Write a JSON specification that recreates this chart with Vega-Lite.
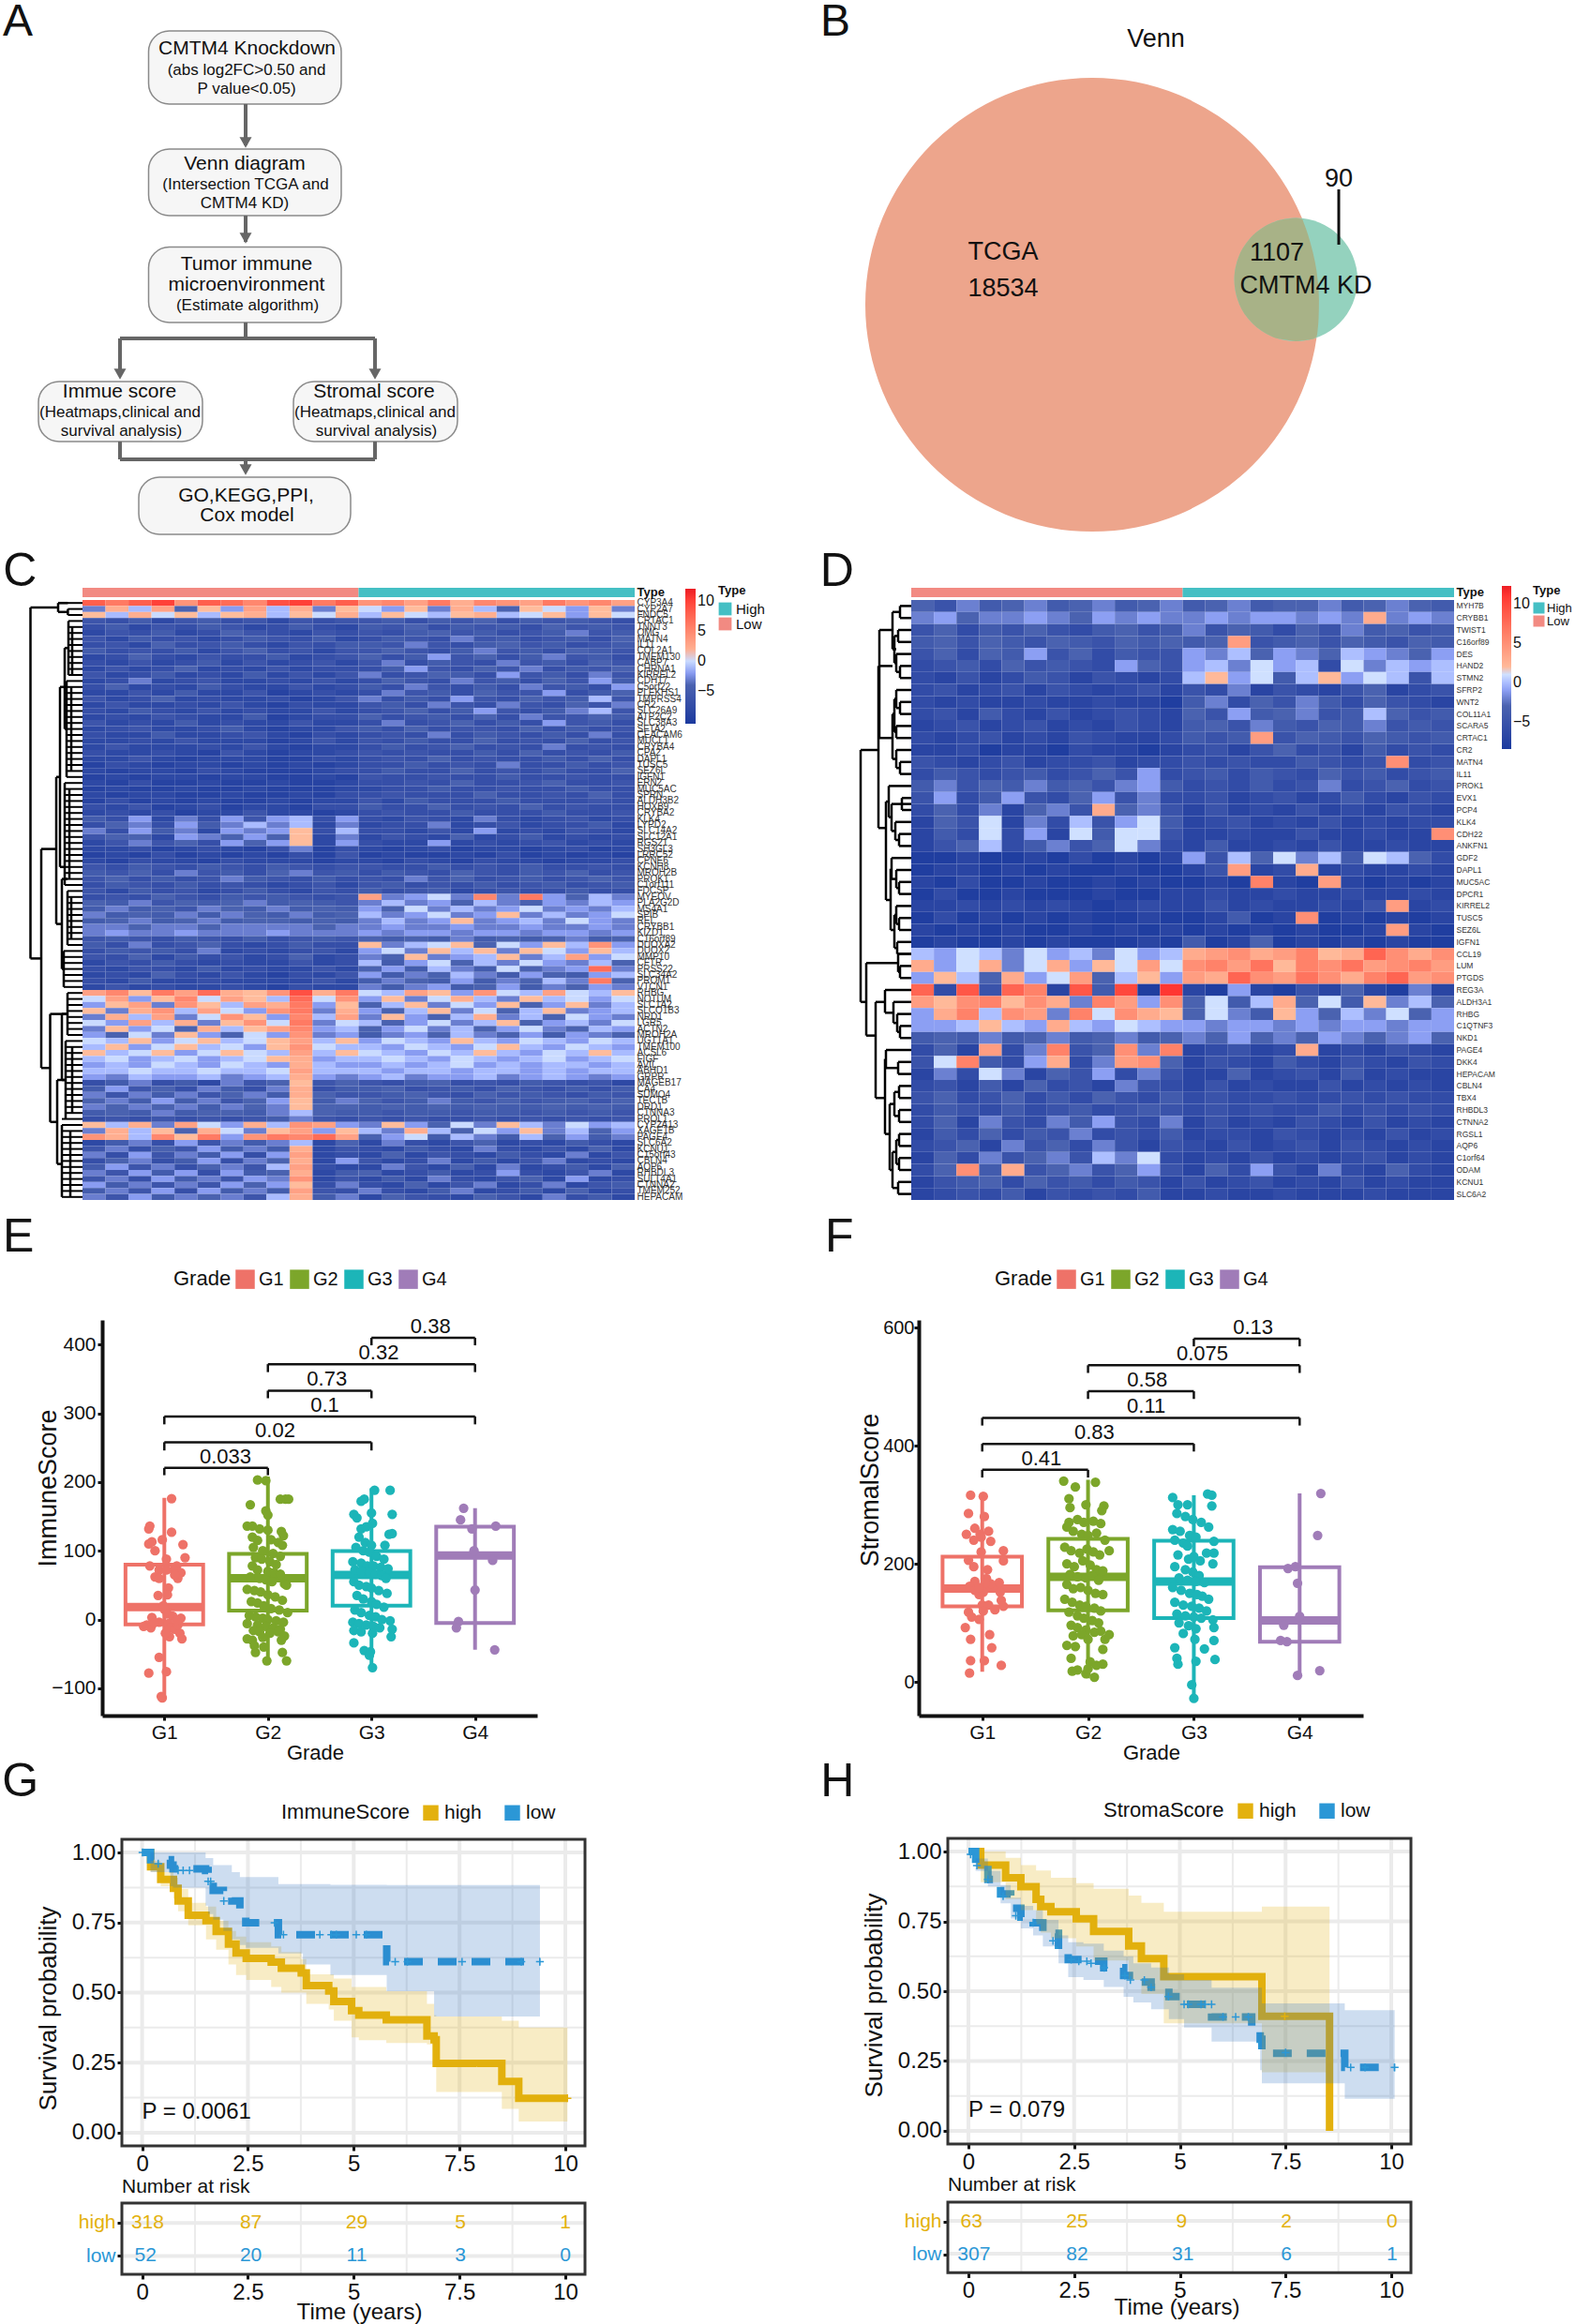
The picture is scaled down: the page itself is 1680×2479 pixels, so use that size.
{"$schema":"https://vega.github.io/schema/vega-lite/v6.json","padding":0,"spacing":0,"bounds":"flush","columns":2,
"resolve":{"scale":{"color":"independent"},"legend":{"color":"independent"}},
"config":{"view":{"stroke":null},"font":"Liberation Sans","axis":{"grid":false,"labelColor":"#111","titleColor":"#111","titleFontWeight":"normal","tickColor":"#111","domainColor":"#111","tickWidth":3,"tickSize":5,"domainWidth":4,"labelFont":"Liberation Sans","titleFont":"Liberation Sans"},"legend":{"labelFont":"Liberation Sans","titleFont":"Liberation Sans","labelColor":"#111","titleColor":"#111","titleFontWeight":"normal"}},
"datasets":{
"hC":[
{"g":"CYP3A4","v":[8,6,8,10,4,8,7,5,9,10,6,8,4,5,3,6,2,5,4,3,6,4,5,3]},
{"g":"CYP2A7","v":[-3,2,-1,3,-4,1,-2,3,-1,2,-3,1,0,-2,1,-3,2,-1,-4,1,0,-2,1,-3]},
{"g":"FNDC5","v":[1,-1,2,0,1,-1,1,2,-1,1,0,2,-1,1,0,-1,1,2,-1,0,1,-2,1,0]},
{"g":"CRTAC1","v":[-6,-7,-5,-8,-6,-5,-7,-6,-8,-6,-7,-6,-6,-5,-7,-5,-6,-4,-7,-5,-6,-5,-6,-7]},
{"g":"TNNT3","v":[-7,-5,-8,-6,-7,-5,-6,-8,-7,-5,-7,-8,-5,-6,-4,-7,-5,-6,-5,-7,-4,-6,-5,-6]},
{"g":"OMG","v":[-8,-6,-7,-5,-8,-7,-4,-6,-7,-8,-6,-7,-6,-7,-5,-4,-6,-5,-7,-6,-5,-3,-6,-5]},
{"g":"MATN4","v":[-6,-8,-5,-7,-6,-8,-7,-5,-6,-7,-5,-8,-7,-5,-6,-7,-3,-6,-5,-7,-6,-5,-7,-4]},
{"g":"IL11","v":[-7,-6,-8,-4,-7,-6,-5,-7,-8,-6,-7,-5,-5,-6,-3,-6,-7,-5,-4,-6,-5,-7,-6,-5]},
{"g":"COL2A1","v":[-5,-7,-6,-7,-5,-8,-6,-4,-7,-6,-8,-6,-6,-4,-6,-7,-5,-3,-6,-5,-7,-4,-5,-6]},
{"g":"TMEM130","v":[-8,-7,-4,-7,-8,-6,-7,-7,-5,-8,-7,-6,-4,-7,-5,-2,-6,-4,-7,-5,-3,-6,-5,-7]},
{"g":"CABP7","v":[-7,-8,-6,-8,-7,-5,-8,-6,-8,-7,-6,-8,-6,-3,-7,-5,-6,-7,-3,-6,-5,-7,-4,-6]},
{"g":"CHRNA1","v":[-8,-6,-8,-7,-4,-8,-7,-8,-6,-8,-7,-7,-7,-5,-2,-6,-7,-4,-6,-3,-7,-5,-6,-4]},
{"g":"KIRREL2","v":[-6,-8,-7,-5,-8,-7,-8,-5,-8,-6,-8,-6,-3,-7,-6,-4,-5,-7,-2,-6,-5,-7,-3,-6]},
{"g":"CDH17","v":[-8,-7,-3,-8,-7,-6,-8,-8,-7,-8,-6,-8,-7,-4,-6,-7,-3,-6,-5,-7,-4,-6,-2,-5]},
{"g":"C5orf22","v":[-7,-4,-8,-7,-8,-5,-7,-8,-8,-6,-8,-7,-5,-7,-3,-6,-7,-5,-7,-3,-6,-5,-7,-2]},
{"g":"PLEKHS1","v":[-8,-8,-6,-8,-5,-8,-8,-6,-9,-8,-7,-8,-7,-3,-6,-5,-7,-4,-6,-6,-2,-7,-5,-4]},
{"g":"TMPRSS4","v":[-6,-8,-7,-4,-8,-7,-8,-8,-7,-9,-8,-6,-3,-7,-5,-7,-2,-6,-7,-4,-6,-5,-1,-6]},
{"g":"CR2","v":[-8,-6,-8,-8,-7,-8,-6,-8,-9,-7,-8,-8,-6,-5,-7,-3,-6,-7,-3,-6,-7,-4,-6,-3]},
{"g":"SLC26A9","v":[-7,-8,-5,-7,-8,-6,-8,-7,-8,-8,-6,-8,-7,-6,-4,-7,-5,-2,-6,-7,-5,-3,-1,-6]},
{"g":"ATP2C2","v":[-8,-7,-8,-6,-7,-8,-8,-5,-9,-8,-7,-7,-4,-7,-6,-5,-7,-4,-7,-3,-6,-6,-4,-5]},
{"g":"SLC38A3","v":[-6,-8,-7,-8,-5,-8,-7,-8,-8,-6,-8,-8,-7,-3,-7,-6,-4,-7,-5,-7,-2,-6,-5,-7]},
{"g":"SFTA2","v":[-8,-7,-6,-8,-8,-7,-5,-8,-9,-8,-8,-6,-5,-7,-4,-7,-6,-6,-7,-4,-7,-5,-7,-6]},
{"g":"CEACAM6","v":[-7,-8,-8,-5,-8,-8,-7,-6,-8,-9,-7,-8,-7,-6,-7,-3,-7,-5,-6,-7,-5,-7,-3,-7]},
{"g":"MUCL1","v":[-8,-8,-7,-8,-6,-8,-8,-8,-9,-8,-6,-8,-6,-7,-5,-7,-7,-4,-7,-6,-7,-4,-7,-6]},
{"g":"CRYBA4","v":[-8,-6,-8,-8,-8,-7,-8,-6,-8,-9,-8,-8,-7,-5,-7,-6,-4,-7,-6,-7,-3,-7,-6,-7]},
{"g":"CPA2","v":[-7,-8,-8,-7,-8,-9,-6,-8,-9,-8,-8,-7,-6,-7,-6,-7,-7,-5,-7,-4,-7,-6,-7,-5]},
{"g":"DAPL1","v":[-8,-8,-6,-8,-9,-8,-8,-8,-9,-9,-7,-8,-7,-6,-7,-4,-7,-6,-7,-7,-5,-7,-4,-7]},
{"g":"TUSC5","v":[-9,-7,-8,-9,-8,-8,-9,-8,-9,-8,-9,-8,-7,-7,-5,-7,-6,-7,-3,-7,-7,-5,-7,-6]},
{"g":"SEZ6L","v":[-8,-9,-8,-8,-9,-7,-8,-9,-9,-9,-8,-7,-7,-5,-7,-7,-4,-7,-6,-7,-5,-7,-7,-4]},
{"g":"IGFN1","v":[-9,-8,-9,-8,-8,-9,-8,-8,-9,-9,-8,-9,-6,-7,-7,-6,-7,-7,-5,-7,-7,-6,-7,-7]},
{"g":"ERN2","v":[-8,-9,-7,-9,-9,-8,-9,-9,-8,-9,-9,-8,-7,-7,-6,-7,-4,-7,-7,-6,-4,-7,-7,-6]},
{"g":"MUC5AC","v":[-9,-8,-9,-9,-8,-9,-9,-8,-9,-9,-9,-8,-8,-7,-7,-5,-7,-7,-6,-7,-7,-5,-7,-7]},
{"g":"SPRN","v":[-8,-9,-8,-8,-9,-9,-8,-9,-9,-8,-9,-7,-7,-6,-7,-7,-7,-4,-7,-7,-6,-7,-4,-7]},
{"g":"ALDH3B2","v":[-9,-7,-9,-8,-9,-8,-9,-9,-8,-9,-8,-8,-6,-8,-5,-7,-7,-7,-5,-7,-7,-7,-6,-7]},
{"g":"HOXB9","v":[-7,-8,-6,-9,-8,-7,-9,-8,-8,-9,-7,-7,-5,-7,-7,-4,-7,-6,-7,-4,-7,-6,-7,-7]},
{"g":"CRYBA2","v":[-8,-7,-8,-7,-9,-8,-8,-6,-8,-8,-9,-8,-7,-6,-7,-7,-5,-7,-7,-7,-5,-7,-7,-6]},
{"g":"KLK4","v":[-5,-7,-2,-8,-3,-7,-2,-6,-2,-1,-7,-2,-7,-8,-6,-7,-8,-3,-7,-8,-7,-6,-8,-7]},
{"g":"LYPD2","v":[-7,-4,-3,-7,-2,-5,-3,-1,-3,-1,-8,-3,-8,-7,-7,-3,-8,-7,-6,-8,-7,-7,-5,-8]},
{"g":"SLC14A2","v":[-3,-7,-2,-5,-3,-8,-2,-3,-2,1,-7,-1,-7,-7,-8,-6,-8,-2,-8,-7,-8,-6,-7,-8]},
{"g":"SLC12A1","v":[-6,-4,-4,-8,-2,-3,-4,-2,-4,1,-8,-3,-8,-6,-7,-8,-4,-8,-7,-5,-8,-7,-8,-7]},
{"g":"RGS21","v":[-8,-6,-3,-6,-4,-7,-2,-4,-2,1,-8,-2,-7,-8,-8,-2,-8,-7,-8,-7,-6,-8,-7,-8]},
{"g":"SH3GL3","v":[-8,-8,-7,-9,-8,-7,-8,-9,-7,-3,-9,-7,-8,-9,-8,-7,-9,-8,-8,-9,-8,-7,-9,-8]},
{"g":"LRRC52","v":[-9,-8,-9,-7,-9,-8,-9,-8,-9,-7,-9,-6,-9,-8,-9,-9,-8,-9,-7,-9,-8,-9,-8,-9]},
{"g":"CPNE6","v":[-8,-9,-7,-8,-8,-9,-7,-8,-8,-8,-9,-8,-8,-9,-7,-8,-9,-7,-8,-8,-9,-8,-8,-7]},
{"g":"KCNH8","v":[-6,-7,-5,-6,-7,-5,-6,-7,-5,-6,-7,-6,-6,-7,-7,-5,-7,-6,-7,-5,-7,-7,-6,-7]},
{"g":"MROH2B","v":[-5,-6,-4,-7,-3,-6,-5,-7,-4,-3,-6,-5,-7,-5,-6,-7,-4,-6,-7,-5,-6,-4,-7,-6]},
{"g":"PROK1","v":[-6,-4,-7,-5,-7,-6,-3,-5,-6,-7,-5,-7,-6,-7,-3,-6,-4,-7,-6,-5,-7,-6,-4,-6]},
{"g":"C1orf111","v":[-7,-5,-6,-7,-5,-7,-6,-7,-8,-7,-6,-8,-6,-5,-7,-6,-7,-5,-7,-6,-5,-7,-6,-5]},
{"g":"FDCSP","v":[-6,-8,-5,-7,-6,-8,-7,-5,-7,-8,-6,-7,-5,-7,-6,-5,-8,-7,-6,-7,-7,-5,-7,-7]},
{"g":"MYEOV","v":[-7,-6,-7,-4,-6,-7,-5,-6,-5,-6,-7,-6,3,-3,-2,0,-3,5,-3,6,-2,-4,-1,-3]},
{"g":"PLA2G2D","v":[-4,-5,-3,-6,-4,-5,-4,-3,-5,-4,-5,-6,-3,-1,-3,-2,-4,-1,-3,-4,-2,-3,-1,-2]},
{"g":"MS4A1","v":[-5,-3,-5,-4,-6,-3,-4,-5,-3,-5,-4,-5,-2,-4,0,-3,-1,-3,-2,0,-3,-2,-3,-1]},
{"g":"SPIB","v":[-3,-5,-4,-5,-3,-5,-3,-4,-5,-3,-5,-4,-1,-3,-2,0,-3,-2,1,-3,-1,-3,-2,0]},
{"g":"REL","v":[-5,-4,-3,-5,-4,-3,-5,-4,-4,-5,-4,-5,-3,-1,-3,-2,1,-3,-2,-1,-3,0,-2,-3]},
{"g":"CRYBB1","v":[-3,-3,-4,-3,-3,-4,-3,-3,-3,-3,-4,-3,-3,-2,-3,-3,-2,-3,-3,-2,-3,-3,-2,-3]},
{"g":"KIZD1","v":[-3,-2,-3,-3,-2,-3,-3,-3,-2,-3,-3,-3,-2,-3,-2,-2,-3,-2,-2,-3,-2,-2,-3,-2]},
{"g":"C16orf89","v":[-6,-5,-6,-7,-5,-6,-7,-5,-7,-6,-5,-6,-4,-5,-4,-5,-3,-5,-4,-5,-4,-3,-5,-4]},
{"g":"DUOXA2","v":[-5,-7,-3,-7,-6,-4,-7,-8,-7,-5,-7,-7,1,-3,-1,0,1,-4,0,-2,1,-1,4,-2]},
{"g":"DUOX2","v":[-7,-5,-6,-5,-7,-3,-8,-7,-8,-7,-6,-8,-2,0,-3,1,-1,1,-3,1,0,-2,1,-1]},
{"g":"MMP10","v":[-6,-7,-4,-8,-5,-7,-6,-8,-7,-4,-8,-7,-3,-4,1,-3,-2,-1,1,-3,-1,3,-2,0]},
{"g":"CFTR","v":[-8,-6,-7,-5,-7,-8,-7,-8,-8,-6,-8,-7,-1,-5,-2,0,-4,-1,-3,0,-2,-3,-1,-4]},
{"g":"PRSS22","v":[-7,-8,-6,-7,-8,-5,-8,-7,-8,-8,-6,-8,-4,-2,-5,-1,-3,-5,0,-4,-3,-2,7,-3]},
{"g":"SLC34A2","v":[-8,-7,-8,-4,-7,-8,-6,-8,-9,-7,-8,-6,-2,-5,-3,-4,-1,-3,-5,-2,-4,-5,-2,-1]},
{"g":"PROM1","v":[-7,-8,-5,-8,-8,-7,-8,-8,-8,-8,-6,-8,-5,-3,-4,-5,-2,-5,-3,-4,-1,-3,6,-4]},
{"g":"VTCN1","v":[-8,-6,-8,-7,-8,-8,-7,-8,-9,-7,-8,-8,-3,-5,-3,-2,-5,-4,-2,-5,-3,-4,-2,-3]},
{"g":"RHBG","v":[3,5,1,6,3,7,2,1,4,9,2,6,0,-1,3,1,-2,4,0,-1,3,0,-1,1]},
{"g":"NOTUM","v":[0,3,-2,1,5,0,3,1,-1,7,0,4,-2,1,-3,0,2,-1,-3,1,-1,0,-2,0]},
{"g":"SLC1A2","v":[-2,1,3,-3,4,1,-1,3,2,6,-2,1,-4,-1,1,-3,0,-2,1,-4,-2,1,-3,-1]},
{"g":"SLCO1B3","v":[1,-3,2,4,-1,3,0,-2,4,6,-3,2,-2,-4,-1,1,-3,0,-4,-1,1,-3,-2,-1]},
{"g":"NRD1","v":[-3,2,-1,3,-3,0,4,1,-2,5,-1,3,-3,1,-2,-4,-1,2,-3,-1,-4,0,-2,-3]},
{"g":"LGR5","v":[0,-2,3,-1,2,-3,1,4,0,6,-3,0,-1,-4,-2,0,-3,-1,1,-4,-2,-1,-3,0]},
{"g":"ACTN2","v":[-3,1,-2,0,-4,2,-1,1,3,5,-2,-1,-4,-2,0,-3,-1,-4,-2,0,-3,-4,-1,-2]},
{"g":"MROH2A","v":[-2,-4,0,-3,1,-2,-4,0,-2,4,-3,-2,-5,-3,-2,-4,-1,-3,-4,-2,-5,-2,-3,-4]},
{"g":"UGT1A1","v":[0,-1,1,-2,0,1,-1,0,1,3,-1,1,-2,0,-1,-2,1,-1,-2,0,-1,-2,0,-1]},
{"g":"TMEM100","v":[-1,1,-2,0,1,-1,0,-2,1,4,0,-1,-1,-2,0,-1,-2,0,1,-1,-2,0,-1,-2]},
{"g":"ACSL6","v":[1,-1,0,1,-2,0,1,0,-1,3,-1,1,0,-1,-2,0,-1,1,-1,-2,0,-1,1,-1]},
{"g":"FIGF","v":[-1,0,-2,-1,0,-2,-1,0,1,2,-2,-1,-1,0,-1,-2,0,-1,-2,-1,0,-2,-1,0]},
{"g":"AVIL","v":[-2,-1,-2,0,-1,-2,0,-1,-2,2,-1,-2,-2,-1,-2,-1,0,-2,-1,-2,-1,-1,-2,-1]},
{"g":"ABHD1","v":[-1,-1,0,-1,-1,0,-1,-1,0,3,-1,-1,-1,-2,-1,-1,-2,-1,-1,-2,-1,-2,-1,-1]},
{"g":"GRPR","v":[-2,-3,-1,-2,-2,-1,-3,-2,-1,2,-2,-3,-2,-1,-3,-2,-2,-1,-3,-2,-1,-2,-3,-2]},
{"g":"MAGEB17","v":[-7,-5,-3,-7,-5,-8,-3,-6,-4,1,-6,-4,-6,-7,-5,-4,-7,-6,-7,-5,-6,-7,-6,-8]},
{"g":"CA4","v":[-5,-2,-6,-4,-7,-3,-5,-7,-3,2,-7,-5,-5,-4,-7,-6,-5,-7,-4,-6,-7,-5,-7,-5]},
{"g":"SUMO4","v":[-3,-6,-3,-5,-3,-6,-4,-3,-5,2,-4,-6,-6,-5,-4,-6,-7,-4,-6,-5,-6,-7,-5,-6]},
{"g":"TECTB","v":[-4,-3,-5,-2,-5,-3,-6,-4,-2,1,-5,-3,-4,-6,-5,-3,-5,-6,-4,-6,-5,-4,-6,-4]},
{"g":"DRD1","v":[-3,-4,-3,-4,-3,-5,-3,-4,-3,1,-4,-4,-5,-4,-5,-4,-5,-4,-5,-5,-4,-5,-4,-5]},
{"g":"CTNNA3","v":[-5,-4,-5,-3,-5,-4,-4,-5,-3,-1,-4,-5,-5,-6,-5,-5,-6,-5,-5,-6,-5,-6,-5,-6]},
{"g":"PROL1","v":[-7,-6,-7,-6,-7,-6,-7,-6,-5,-3,-6,-7,-6,-7,-6,-7,-7,-6,-7,-6,-7,-6,-7,-6]},
{"g":"CYP2A13","v":[1,-1,2,-3,3,0,-2,2,-1,4,3,-2,-3,1,-2,-4,0,-3,1,-1,-3,0,-2,-1]},
{"g":"XAGE1B","v":[-3,2,-1,1,-4,2,0,-3,1,3,-2,1,-1,-3,2,-1,-4,0,-2,1,-3,-1,-4,-2]},
{"g":"PAGE4","v":[4,2,-1,5,1,6,-2,4,6,5,7,3,-4,-2,0,-5,-1,-3,-5,-1,-4,-2,-5,-3]},
{"g":"SLC6A2","v":[-8,-5,-3,-7,-2,-6,-3,-5,-3,-1,-8,-4,-8,-3,-7,-8,-6,-4,-8,-7,-8,-5,-7,-8]},
{"g":"KCNU1","v":[-6,-3,-7,-4,-6,-2,-5,-3,-5,2,-8,-6,-7,-8,-5,-7,-8,-3,-7,-8,-6,-8,-4,-8]},
{"g":"C15orf43","v":[-3,-7,-2,-6,-3,-5,-2,-7,-2,3,-8,-7,-8,-4,-8,-6,-7,-8,-5,-7,-8,-3,-8,-6]},
{"g":"CBLN4","v":[-7,-4,-3,-7,-5,-2,-7,-3,-4,2,-8,-2,-6,-8,-7,-3,-8,-5,-8,-6,-3,-8,-7,-8]},
{"g":"AQP6","v":[-5,-2,-6,-3,-7,-4,-3,-6,-1,3,-7,-8,-8,-3,-6,-8,-4,-8,-3,-8,-7,-5,-8,-4]},
{"g":"RHBDL3","v":[-3,-6,-2,-5,-2,-7,-2,-5,-4,2,-8,-5,-4,-8,-7,-5,-8,-7,-2,-7,-8,-6,-3,-8]},
{"g":"SULT4A1","v":[-6,-3,-7,-2,-5,-3,-6,-2,-3,4,-8,-6,-8,-5,-8,-3,-7,-8,-6,-4,-8,-2,-8,-7]},
{"g":"CTNNA2","v":[-2,-5,-3,-6,-3,-6,-2,-4,-2,1,-7,-3,-7,-8,-4,-8,-6,-3,-8,-7,-3,-8,-6,-5]},
{"g":"TMEM252","v":[-5,-3,-6,-2,-7,-2,-5,-3,-5,3,-6,-7,-3,-7,-8,-5,-3,-8,-7,-5,-8,-4,-8,-7]},
{"g":"HEPACAM","v":[-3,-6,-2,-5,-3,-4,-3,-6,-1,2,-5,-3,-8,-4,-6,-7,-8,-4,-6,-8,-3,-7,-5,-8]}
],
"hD":[
{"g":"MYH7B","v":[-3,-5,-2,-4,-3,-2,-4,-3,-2,-4,-3,-2,-4,-3,-2,-4,-3,-3,-2,-4,-3,-2,-3,-4]},
{"g":"CRYBB1","v":[-2,-1,-3,-2,-2,-1,-2,-3,-1,-2,-1,-2,-2,-1,-2,-1,-1,-2,-1,-2,3,-2,-1,-2]},
{"g":"TWIST1","v":[-5,-3,-6,-4,-5,-3,-5,-6,-4,-3,-5,-4,-2,-5,-3,-4,-6,-3,-5,-2,-4,-3,-5,-4]},
{"g":"C16orf89","v":[-4,-3,-5,-3,-4,-5,-3,-4,-5,-3,-4,-3,-4,-3,4,-5,-4,-3,-5,-3,-4,-5,-3,-4]},
{"g":"DES","v":[-5,-3,-6,-3,-4,-1,-5,-3,-6,-4,-5,-5,-1,-2,0,-3,-1,-2,-3,0,-1,-2,-3,-1]},
{"g":"HAND2","v":[-6,-5,-4,-6,-3,-5,-4,-5,-6,-1,-3,-5,-1,0,-2,1,-1,0,-6,1,-2,0,-1,0]},
{"g":"STMN2","v":[-6,-7,-5,-7,-6,-4,-5,-7,-5,-6,-7,-6,0,2,-1,1,-4,0,2,-1,1,0,-5,0]},
{"g":"SFRP2","v":[-6,-5,-7,-6,-5,-7,-5,-6,-7,-6,-5,-7,-5,-6,-2,-7,-5,-6,-7,-5,-3,-7,-6,-5]},
{"g":"WNT2","v":[-6,-7,-6,-7,-7,-6,-7,-7,-6,-7,-7,-8,-4,-2,-6,-3,-5,-2,-4,-6,-3,-5,-6,-7]},
{"g":"COL11A1","v":[-6,-5,-7,-4,-6,-7,-5,-7,-6,-5,-6,-7,-3,-5,-1,-4,-3,-2,-5,-4,0,-3,-5,-4]},
{"g":"SCARA5","v":[-7,-6,-5,-7,-6,-5,-7,-6,-7,-5,-6,-7,-4,-3,-5,-2,-4,-5,-3,-4,-2,-5,-4,-5]},
{"g":"CRTAC1","v":[-6,-7,-6,-5,-7,-6,-7,-5,-6,-7,-7,-6,-4,-5,-4,4,-5,-3,-4,-5,-3,-4,-5,-4]},
{"g":"CR2","v":[-7,-7,-6,-8,-7,-7,-8,-6,-7,-7,-8,-7,-6,-5,-7,-5,-3,-6,-5,-7,-4,-6,-5,-6]},
{"g":"MATN4","v":[-5,-6,-7,-6,-5,-7,-6,-6,-5,-7,-6,-6,-5,-6,-5,-6,-6,-4,-5,-6,-5,5,-6,-5]},
{"g":"IL11","v":[-6,-4,-5,-6,-5,-4,-6,-5,-3,-5,-1,-6,-5,-4,-6,-4,-5,-6,-3,-5,-4,-6,-5,-4]},
{"g":"PROK1","v":[-4,-2,-5,-3,-4,-2,-4,-3,-5,-2,-1,-4,-6,-5,-6,-4,-6,-5,-2,-6,-5,-3,-6,-5]},
{"g":"EVX1","v":[-5,-1,-6,-4,-1,-5,-6,-3,-1,-5,-2,-6,-6,-5,-7,-6,-5,-7,-6,-4,-6,-7,-5,-6]},
{"g":"PCP4","v":[-6,-3,-6,-2,-7,-3,-2,-5,3,-3,-2,-5,-7,-5,-7,-6,-7,-5,-7,-6,-7,-5,-6,-7]},
{"g":"KLK4","v":[-7,-3,-5,1,-7,-2,-6,0,-5,-1,1,-4,-7,-6,-5,-7,-6,-7,-5,-7,-6,-7,-6,-6]},
{"g":"CDH22","v":[-7,-4,-6,1,-6,-1,-7,1,-4,1,1,-5,-7,-7,-6,-7,-7,-5,-7,-7,-6,-7,-7,5]},
{"g":"ANKFN1","v":[-7,-5,-3,0,-6,-4,-2,-5,-3,1,-2,-6,-7,-4,-7,-7,-6,-7,-5,-7,-7,-6,-7,-7]},
{"g":"GDF2","v":[-8,-8,-7,-8,-8,-7,-8,-6,-8,-7,-8,-7,-1,-5,0,-3,1,-2,0,-4,1,0,-3,-6]},
{"g":"DAPL1","v":[-8,-7,-7,-8,-7,-8,-7,-8,-8,-7,-8,-8,-7,-5,4,-7,-6,3,-7,-6,-7,-7,-6,-7]},
{"g":"MUC5AC","v":[-7,-8,-6,-8,-8,-7,-8,-8,-7,-8,-7,-8,-8,-7,-8,6,-7,-8,4,-7,-8,-7,-8,-7]},
{"g":"DPCR1","v":[-8,-6,-8,-8,-7,-8,-8,-8,-7,-8,-8,-7,-7,-6,-7,-7,-6,-7,-7,-6,-7,-7,-6,-7]},
{"g":"KIRREL2","v":[-7,-7,-6,-7,-6,-7,-6,-7,-8,-7,-6,-7,-7,-5,-7,-6,-7,-7,-6,-7,-5,4,-7,-6]},
{"g":"TUSC5","v":[-8,-6,-8,-7,-8,-7,-8,-7,-8,-8,-7,-8,-8,-7,-4,-8,-7,5,-8,-7,-8,-7,-8,-7]},
{"g":"SEZ6L","v":[-7,-8,-7,-8,-7,-8,-8,-7,-8,-7,-8,-7,-8,-7,-8,-7,-8,-7,-8,-8,-7,4,-7,-8]},
{"g":"IGFN1","v":[-8,-7,-8,-8,-7,-8,-7,-8,-8,-8,-7,-8,-4,-8,-7,-3,-8,-7,-8,-7,-8,-7,-8,-8]},
{"g":"CCL19","v":[0,-1,1,0,-2,1,-1,0,-2,1,-1,0,3,4,5,3,4,6,2,3,8,5,3,5]},
{"g":"LUM","v":[3,-1,1,3,-2,1,3,-1,2,1,4,1,5,6,4,7,2,6,5,7,4,5,6,4]},
{"g":"PTGDS","v":[-1,2,0,-3,3,-1,1,4,-3,0,2,-1,4,3,8,5,4,7,5,3,6,8,4,5]},
{"g":"REG3A","v":[8,-6,9,-5,8,6,-7,9,-4,10,-8,11,-7,-8,-1,-7,-8,-5,-7,-3,-7,-8,-2,-7]},
{"g":"ALDH3A1","v":[4,2,5,6,2,5,3,-2,6,4,-1,5,-3,1,-4,0,3,-3,1,-4,2,-2,0,-3]},
{"g":"RHBG","v":[-1,3,6,0,5,4,-2,6,1,5,3,2,-3,1,-2,-4,2,-1,-3,0,-2,1,-3,-1]},
{"g":"C1QTNF3","v":[-1,-1,0,2,0,-1,3,0,-1,1,0,-1,-1,-2,-1,-1,-2,-1,-2,-1,-1,-2,-1,-1]},
{"g":"NKD1","v":[-4,-3,-4,-2,-4,-3,-2,-4,-3,-2,-4,-3,-2,-3,-1,-3,-2,-3,-1,-2,-3,-2,-1,-3]},
{"g":"PAGE4","v":[-6,-3,-7,4,-6,-2,6,-5,-3,5,-2,6,-7,-6,-5,-7,-6,3,-7,-6,-7,-5,-6,-7]},
{"g":"DKK4","v":[-5,1,6,-4,-6,-1,3,-6,-2,4,5,-3,-7,-5,-6,-7,-4,-6,-7,-5,-6,-7,-5,-6]},
{"g":"HEPACAM","v":[-7,-2,-6,1,-2,-7,-3,-5,-1,-6,-2,-5,-7,-7,-3,-7,-6,-5,-7,-4,-7,-6,-7,-7]},
{"g":"CBLN4","v":[-6,-5,-7,-4,-7,-3,-6,-5,-7,-2,-5,-6,-7,-5,-7,-6,-7,-7,-5,-7,-6,-7,-6,-7]},
{"g":"TBX4","v":[-5,-3,-6,-5,-3,-6,-4,-6,-3,-5,-6,-4,-6,-5,-6,-6,-5,-6,-6,-5,-6,-5,-6,-6]},
{"g":"RHBDL3","v":[-6,-4,-5,-6,-4,-6,-5,-4,-6,-5,-4,-5,-6,-5,-6,-5,-6,-6,-4,-6,-5,-6,-5,-6]},
{"g":"CTNNA2","v":[-6,-3,-7,-2,-5,-6,-2,-4,-1,-5,-6,-2,-7,-5,-7,-6,-7,-5,-6,-7,-5,-7,-6,-7]},
{"g":"RGSL1","v":[-7,-4,-6,-3,-6,-4,-5,-2,-6,-5,-6,-4,-7,-6,-6,-7,-5,-6,-7,-6,-7,-5,-7,-6]},
{"g":"AQP6","v":[-6,-5,-3,-7,-2,-5,-3,-6,-2,-5,-7,-5,-6,-7,-5,-7,-6,-5,-7,-5,-6,-7,-6,-7]},
{"g":"C1orf64","v":[-7,-3,-6,-2,-5,-3,-2,-5,0,-2,1,-6,-7,-6,-7,-5,-7,-6,-7,-6,-5,-7,-6,-7]},
{"g":"ODAM","v":[-6,-3,5,-4,3,-5,-3,-2,-5,-3,-1,-5,-7,-3,-6,-1,-5,-7,-2,-6,-7,-3,-6,-7]},
{"g":"KCNU1","v":[-7,-5,-4,-3,-6,-3,-5,-4,-6,-4,-5,-7,-5,-7,-6,-5,-7,-6,-7,-5,-7,-6,-7,-7]},
{"g":"SLC6A2","v":[-7,-6,-5,-6,-4,-7,-5,-6,-5,-6,-4,-7,-7,-6,-7,-7,-6,-7,-7,-7,-6,-7,-7,-7]}
],
"kmG":[
{"g":"high","t":0,"s":1,"l":1,"u":1},{"g":"high","t":0.2,"s":0.949,"l":0.93,"u":0.97},{"g":"high","t":0.44,"s":0.904,"l":0.88,"u":0.93},{"g":"high","t":0.74,"s":0.872,"l":0.835,"u":0.91},{"g":"high","t":0.85,"s":0.827,"l":0.79,"u":0.87},{"g":"high","t":1.09,"s":0.776,"l":0.74,"u":0.82},{"g":"high","t":1.51,"s":0.757,"l":0.69,"u":0.807},{"g":"high","t":1.75,"s":0.718,"l":0.653,"u":0.756},{"g":"high","t":2.04,"s":0.673,"l":0.6,"u":0.72},{"g":"high","t":2.22,"s":0.641,"l":0.563,"u":0.7},{"g":"high","t":2.46,"s":0.622,"l":0.545,"u":0.68},{"g":"high","t":3.05,"s":0.609,"l":0.52,"u":0.665},{"g":"high","t":3.29,"s":0.587,"l":0.5,"u":0.645},{"g":"high","t":3.76,"s":0.57,"l":0.5,"u":0.62},{"g":"high","t":3.88,"s":0.525,"l":0.46,"u":0.565},{"g":"high","t":4.41,"s":0.506,"l":0.44,"u":0.565},{"g":"high","t":4.53,"s":0.468,"l":0.4,"u":0.55},{"g":"high","t":4.95,"s":0.436,"l":0.34,"u":0.52},{"g":"high","t":5.12,"s":0.42,"l":0.33,"u":0.52},{"g":"high","t":5.77,"s":0.403,"l":0.32,"u":0.505},{"g":"high","t":6.73,"s":0.345,"l":0.315,"u":0.46},{"g":"high","t":6.9,"s":0.332,"l":0.31,"u":0.42},{"g":"high","t":6.95,"s":0.247,"l":0.145,"u":0.415},{"g":"high","t":8.5,"s":0.183,"l":0.085,"u":0.4},{"g":"high","t":8.9,"s":0.123,"l":0.04,"u":0.375},{"g":"high","t":10.05,"s":0.123,"l":0.04,"u":0.375},
{"g":"low","t":0,"s":1,"l":1,"u":1},{"g":"low","t":0.2,"s":0.974,"l":0.93,"u":1},{"g":"low","t":0.67,"s":0.955,"l":0.88,"u":1},{"g":"low","t":0.73,"s":0.942,"l":0.875,"u":1},{"g":"low","t":1.5,"s":0.936,"l":0.81,"u":0.98},{"g":"low","t":1.56,"s":0.897,"l":0.78,"u":0.98},{"g":"low","t":1.68,"s":0.865,"l":0.76,"u":0.955},{"g":"low","t":1.92,"s":0.861,"l":0.72,"u":0.955},{"g":"low","t":2.12,"s":0.827,"l":0.69,"u":0.93},{"g":"low","t":2.31,"s":0.794,"l":0.67,"u":0.912},{"g":"low","t":2.45,"s":0.749,"l":0.66,"u":0.912},{"g":"low","t":3.22,"s":0.707,"l":0.64,"u":0.887},{"g":"low","t":3.8,"s":0.707,"l":0.6,"u":0.887},{"g":"low","t":4.45,"s":0.707,"l":0.563,"u":0.885},{"g":"low","t":5.78,"s":0.61,"l":0.505,"u":0.884},{"g":"low","t":6.9,"s":0.61,"l":0.415,"u":0.884},{"g":"low","t":9.4,"s":0.61,"l":0.415,"u":0.884}],
"kmH":[
{"g":"high","t":0,"s":1,"l":1,"u":1},{"g":"high","t":0.29,"s":0.951,"l":0.89,"u":1},{"g":"high","t":0.88,"s":0.906,"l":0.83,"u":0.977},{"g":"high","t":1.24,"s":0.874,"l":0.79,"u":0.951},{"g":"high","t":1.6,"s":0.829,"l":0.74,"u":0.932},{"g":"high","t":1.71,"s":0.803,"l":0.71,"u":0.932},{"g":"high","t":1.95,"s":0.784,"l":0.69,"u":0.906},{"g":"high","t":2.55,"s":0.759,"l":0.66,"u":0.887},{"g":"high","t":2.96,"s":0.714,"l":0.61,"u":0.867},{"g":"high","t":3.79,"s":0.662,"l":0.54,"u":0.842},{"g":"high","t":4.09,"s":0.617,"l":0.49,"u":0.816},{"g":"high","t":4.62,"s":0.552,"l":0.385,"u":0.784},{"g":"high","t":6.94,"s":0.41,"l":0.21,"u":0.803},{"g":"high","t":8.54,"s":0,"l":0.21,"u":0.803},
{"g":"low","t":0,"s":1,"l":1,"u":1},{"g":"low","t":0.17,"s":0.951,"l":0.93,"u":0.975},{"g":"low","t":0.46,"s":0.9,"l":0.875,"u":0.93},{"g":"low","t":0.76,"s":0.848,"l":0.815,"u":0.88},{"g":"low","t":1,"s":0.797,"l":0.76,"u":0.835},{"g":"low","t":1.24,"s":0.765,"l":0.725,"u":0.805},{"g":"low","t":1.53,"s":0.745,"l":0.7,"u":0.79},{"g":"low","t":1.76,"s":0.707,"l":0.66,"u":0.755},{"g":"low","t":2.13,"s":0.649,"l":0.6,"u":0.7},{"g":"low","t":2.36,"s":0.613,"l":0.55,"u":0.675},{"g":"low","t":2.72,"s":0.607,"l":0.54,"u":0.67},{"g":"low","t":3.2,"s":0.584,"l":0.515,"u":0.645},{"g":"low","t":3.67,"s":0.556,"l":0.48,"u":0.625},{"g":"low","t":3.9,"s":0.533,"l":0.46,"u":0.6},{"g":"low","t":4.32,"s":0.514,"l":0.435,"u":0.585},{"g":"low","t":4.74,"s":0.481,"l":0.4,"u":0.56},{"g":"low","t":5.1,"s":0.453,"l":0.37,"u":0.54},{"g":"low","t":5.75,"s":0.408,"l":0.32,"u":0.513},{"g":"low","t":6.7,"s":0.36,"l":0.32,"u":0.513},{"g":"low","t":6.9,"s":0.328,"l":0.217,"u":0.513},{"g":"low","t":6.94,"s":0.278,"l":0.17,"u":0.456},{"g":"low","t":8.9,"s":0.227,"l":0.115,"u":0.432},{"g":"low","t":10.08,"s":0.227,"l":0.115,"u":0.432}],
"keys":[{"g":"high"},{"g":"low"}],
"vMaj":[{"v":0,"a":-0.047,"b":1.047},{"v":2.5,"a":-0.047,"b":1.047},{"v":5,"a":-0.047,"b":1.047},{"v":7.5,"a":-0.047,"b":1.047},{"v":10,"a":-0.047,"b":1.047}],
"vMin":[{"v":1.25,"a":-0.047,"b":1.047},{"v":3.75,"a":-0.047,"b":1.047},{"v":6.25,"a":-0.047,"b":1.047},{"v":8.75,"a":-0.047,"b":1.047},{"v":1.25,"a":-0.253,"b":-0.506},{"v":3.75,"a":-0.253,"b":-0.506},{"v":6.25,"a":-0.253,"b":-0.506},{"v":8.75,"a":-0.253,"b":-0.506}],
"hMaj":[{"v":0,"a":-0.478,"b":10.465},{"v":0.25,"a":-0.478,"b":10.465},{"v":0.5,"a":-0.478,"b":10.465},{"v":0.75,"a":-0.478,"b":10.465},{"v":1,"a":-0.478,"b":10.465},{"v":-0.322,"a":-0.478,"b":10.465},{"v":-0.44,"a":-0.478,"b":10.465}],
"hMin":[{"v":0.125,"a":-0.478,"b":10.465},{"v":0.375,"a":-0.478,"b":10.465},{"v":0.625,"a":-0.478,"b":10.465},{"v":0.875,"a":-0.478,"b":10.465}],
"boxE":[{"g":"G1","c":1,"a":0.625,"b":1.375,"lo":-114,"q1":-7,"m":18,"q3":80,"hi":177},{"g":"G2","c":2,"a":1.625,"b":2.375,"lo":-66,"q1":13,"m":60,"q3":95.6,"hi":208},{"g":"G3","c":3,"a":2.625,"b":3.375,"lo":-73,"q1":20,"m":65,"q3":99.5,"hi":191},{"g":"G4","c":4,"a":3.625,"b":4.375,"lo":-44,"q1":-5,"m":93,"q3":135,"hi":162}],
"boxF":[{"g":"G1","c":1,"a":0.625,"b":1.375,"lo":17,"q1":128,"m":158,"q3":212,"hi":316},{"g":"G2","c":2,"a":1.625,"b":2.375,"lo":6,"q1":121,"m":178,"q3":242,"hi":342},{"g":"G3","c":3,"a":2.625,"b":3.375,"lo":-31,"q1":108,"m":170,"q3":239,"hi":316},{"g":"G4","c":4,"a":3.625,"b":4.375,"lo":9,"q1":68,"m":104,"q3":194,"hi":319}],
"brE":[{"a":1,"b":2,"y":220.6,"t":210,"p":"0.033","mx":1.59},{"a":1,"b":3,"y":258,"t":246,"p":"0.02","mx":2.07},{"a":1,"b":4,"y":295.5,"t":284,"p":"0.1","mx":2.55},{"a":2,"b":3,"y":333,"t":322,"p":"0.73","mx":2.57},{"a":2,"b":4,"y":371.6,"t":360,"p":"0.32","mx":3.07},{"a":3,"b":4,"y":410,"t":399,"p":"0.38","mx":3.57}],
"brF":[{"a":1,"b":2,"y":359,"t":346,"p":"0.41","mx":1.56},{"a":1,"b":3,"y":403,"t":390,"p":"0.83","mx":2.06},{"a":1,"b":4,"y":447,"t":434,"p":"0.11","mx":2.55},{"a":2,"b":3,"y":492,"t":479,"p":"0.58","mx":2.56},{"a":2,"b":4,"y":536,"t":523,"p":"0.075","mx":3.08},{"a":3,"b":4,"y":581,"t":568,"p":"0.13","mx":3.56}],
"ptE":[
{"g":"G1","x":[1.07,0.86,0.85,1.07,0.98,0.88,0.85,0.91,1.18,1.2,1.02,0.86,0.95,1.12,1.09,1.16,0.91,1.13,1.1,1.02,0.95,1.04,1.03,0.94,0.99,1,1.03,1.08,1.16,0.88,0.83,0.87,0.95,1.04,1.06,1.1,1.05,1.15,1.17,0.95,0.85,1.02,0.97,0.98,0.9,1.13,1.01,0.8,1.12],"y":[176,136,132,127,116,113,110,100,109,90,88,78,72,78,72,68,62,60,65,72,60,46,36,35,20,15,8,5,2,3,-8,-12,-4,-6,-12,-14,-25,-20,-28,-55,-78,-76,-112,-114,-5,-8,-20,-10,-1]},
{"g":"G2","x":[1.9,1.98,2.17,2.2,2.12,1.83,1.98,2,1.8,1.85,1.92,2,2.13,2.15,1.85,1.9,2.03,2.1,2.14,1.86,1.95,2.05,2.12,1.88,1.94,2.02,2.08,1.85,1.9,2,2.06,2.12,1.83,1.92,1.98,2.04,2.16,2.18,1.8,1.87,1.93,2,2.07,2.14,1.84,1.9,1.96,2.03,2.11,2.19,1.82,1.88,1.95,2,2.08,2.15,1.8,1.9,1.98,2.05,2.12,1.86,1.92,2.02,2.1,2.16,1.8,1.85,1.95,2.13,1.87,1.96,1.88,2.14,1.99,2.18],"y":[203,202,175,175,175,167,158,152,136,136,132,130,128,122,120,115,116,112,108,105,100,96,92,90,88,84,80,78,72,70,68,66,62,60,58,55,52,50,44,42,40,36,33,28,26,24,20,16,14,10,6,4,2,0,-2,-4,-6,-8,-10,-12,-14,-16,-18,-20,-18,-24,-28,-30,-26,-30,-38,-40,-48,-48,-60,-60]},
{"g":"G3","x":[3.03,3.18,2.9,2.93,3.2,2.83,2.86,3,2.9,2.95,3.01,3.17,3.2,2.88,2.94,3,3.13,2.85,2.92,2.98,3.05,3.12,2.82,2.9,2.96,3.02,3.09,3.16,2.84,2.9,2.98,3.04,3.1,3.14,2.83,2.88,2.95,3,3.07,3.15,2.86,2.92,3,3.05,3.12,2.84,2.9,2.98,3.04,3.1,3.18,2.82,2.88,2.95,3.02,3.08,3.2,2.83,2.9,3.01,3.19,2.83,2.93,2.99,2.98,3.01],"y":[188,188,172,175,153,153,148,155,132,135,140,124,125,120,112,108,108,105,100,98,92,88,84,82,78,78,76,74,72,70,68,66,64,60,55,50,48,46,42,38,35,30,26,22,18,14,10,6,4,0,-2,-4,-6,-8,-10,-12,-14,-16,-18,-20,-25,-34,-45,-47,-52,-70]},
{"g":"G4","x":[3.89,3.86,3.97,4.2,3.99,4.17,4,3.84,3.82,4.19],"y":[162,145,132,136,100,86,43,-3,-12,-44]}],
"ptF":[
{"g":"G1","x":[0.89,1.01,0.87,1.02,0.93,0.98,1.06,0.85,0.99,0.92,1.08,1.2,1.2,0.99,0.87,0.92,1.05,1.04,1.16,0.93,1.08,1.03,0.88,0.93,1.01,0.97,1.17,1.18,1,1.06,1.12,0.87,0.9,0.97,0.84,0.89,1.07,1.09,0.89,1.02,1.18,0.88,1.01,1.2,0.97],"y":[316,314,285,280,260,250,255,250,245,240,238,222,205,220,206,195,190,175,168,170,166,168,162,155,152,148,152,138,130,130,122,118,110,106,92,72,80,58,36,36,28,15,120,128,160]},
{"g":"G2","x":[1.77,2.07,1.88,1.82,1.83,1.98,2.15,2.13,1.82,1.9,1.96,2.05,2.12,1.8,1.86,1.94,2,2.08,2.16,1.78,1.84,1.92,1.99,2.05,2.11,2.2,1.8,1.87,1.95,2.02,2.08,2.14,1.83,1.9,1.98,2.04,2.1,1.8,1.86,1.93,2,2.07,2.14,1.78,1.85,1.92,1.98,2.06,2.12,1.82,1.9,1.96,2.04,2.1,1.84,1.9,1.98,2.06,2.12,1.86,1.94,2,1.8,1.88,2.16,2.2,2.14,1.84,2.02,2.14,2.08,1.9,1.98,2.06,1.85,2],"y":[340,338,330,310,295,300,298,290,270,275,270,272,268,262,255,250,248,252,240,228,222,218,225,220,215,222,200,195,205,198,190,188,182,178,176,180,172,165,158,160,155,150,148,140,135,130,128,125,120,118,112,108,104,100,96,92,88,84,86,78,80,72,62,60,72,80,55,40,34,30,28,20,14,8,18,22]},
{"g":"G3","x":[2.8,2.85,2.94,3.13,3.17,3.17,2.84,2.92,2.99,3.07,3.14,2.8,2.87,2.96,3.02,2.82,2.9,2.94,3.19,3.19,2.85,2.95,3,3.06,3.12,2.82,2.92,2.99,3.05,3.18,2.86,2.94,3.02,3.1,2.8,2.88,2.96,3.03,3.08,3.14,2.82,2.9,2.98,3.05,3.12,2.84,2.92,3,3.07,3.18,2.86,2.95,3.02,3.19,2.9,3.01,3.19,2.82,3.1,2.84,3.2,2.85,3.02,2.98,3],"y":[312,300,300,318,316,298,285,280,275,270,262,258,255,248,245,240,235,230,238,218,215,208,212,205,218,195,190,186,180,200,176,172,170,168,160,155,150,148,145,140,135,130,128,125,120,115,112,110,108,105,100,95,90,92,82,72,70,58,56,40,38,30,35,-5,-28]},
{"g":"G4","x":[4.2,4.17,3.89,3.96,3.98,4,3.85,3.82,3.88,3.98,4.19],"y":[319,248,192,195,167,111,96,70,68,11,19]}],
"lens":[{"y":232.6,"a":1382,"b":1382.5},{"y":234,"a":1369,"b":1389.2},{"y":237,"a":1358.7,"b":1390.4},{"y":245,"a":1343.9,"b":1393.4},{"y":260,"a":1328.9,"b":1398},{"y":280,"a":1319.2,"b":1402.8},{"y":298,"a":1316.6,"b":1405.5},{"y":320,"a":1320.3,"b":1406.9},{"y":340,"a":1331.5,"b":1406.5},{"y":352,"a":1344.5,"b":1405.5},{"y":358,"a":1354.9,"b":1404.7},{"y":361,"a":1362.7,"b":1402},{"y":364,"a":1382,"b":1382.5}]
},
"concat":[
{"width":840,"height":590,"layer":[
{"data":{"values":[{"x":158.5,"x2":364,"y":33,"y2":111},{"x":158.5,"x2":364,"y":159,"y2":230},{"x":158.5,"x2":364,"y":263.5,"y2":344},{"x":41,"x2":216,"y":407,"y2":471},{"x":313,"x2":488,"y":407,"y2":471},{"x":148,"x2":374,"y":509,"y2":570}]},"mark":{"type":"rect","cornerRadius":22,"fill":"#F6F6F6","stroke":"#8A8A8A","strokeWidth":1.5},"encoding":{"x":{"field":"x","type":"quantitative","axis":null,"scale":{"domain":[0,840],"range":[0,840],"nice":false}},"x2":{"field":"x2"},"y":{"field":"y","type":"quantitative","axis":null,"scale":{"domain":[0,590],"range":[0,590],"nice":false}},"y2":{"field":"y2"}}},
{"data":{"values":[{"x":262,"x2":262,"y":111,"y2":155},{"x":262,"x2":262,"y":230,"y2":258},{"x":262,"x2":262,"y":344,"y2":361},{"x":128,"x2":400,"y":361,"y2":361},{"x":128,"x2":128,"y":361,"y2":401},{"x":400,"x2":400,"y":361,"y2":401},{"x":128,"x2":128,"y":471,"y2":490},{"x":400,"x2":400,"y":471,"y2":490},{"x":128,"x2":400,"y":490,"y2":490},{"x":262,"x2":262,"y":490,"y2":503}]},"mark":{"type":"rule","color":"#666","strokeWidth":4},"encoding":{"x":{"field":"x","type":"quantitative","axis":null},"x2":{"field":"x2"},"y":{"field":"y","type":"quantitative","axis":null},"y2":{"field":"y2"}}},
{"data":{"values":[{"x":262,"y":152},{"x":262,"y":254},{"x":128,"y":399},{"x":400,"y":399},{"x":262,"y":501}]},"mark":{"type":"point","shape":"triangle-down","filled":true,"color":"#666","size":170,"opacity":1},"encoding":{"x":{"field":"x","type":"quantitative","axis":null},"y":{"field":"y","type":"quantitative","axis":null}}},
{"data":{"values":[{"x":263.5,"y":52,"t":"CMTM4 Knockdown"},{"x":261,"y":175,"t":"Venn diagram"},{"x":263,"y":281.5,"t":"Tumor immune"},{"x":263,"y":303.5,"t":"microenvironment"},{"x":127.5,"y":418,"t":"Immue score"},{"x":399,"y":418,"t":"Stromal score"},{"x":262.5,"y":529,"t":"GO,KEGG,PPI,"},{"x":263.5,"y":550,"t":"Cox model"}]},"mark":{"type":"text","fontSize":21,"color":"#111"},"encoding":{"x":{"field":"x","type":"quantitative","axis":null},"y":{"field":"y","type":"quantitative","axis":null},"text":{"field":"t"}}},
{"data":{"values":[{"x":263,"y":74.5,"t":"(abs log2FC>0.50 and"},{"x":263,"y":94.5,"t":"P value<0.05)"},{"x":262,"y":197,"t":"(Intersection TCGA and"},{"x":261,"y":217,"t":"CMTM4 KD)"},{"x":264,"y":326,"t":"(Estimate algorithm)"},{"x":128,"y":440,"t":"(Heatmaps,clinical and"},{"x":129.5,"y":460,"t":"survival analysis)"},{"x":400,"y":440,"t":"(Heatmaps,clinical and"},{"x":401.5,"y":460,"t":"survival analysis)"}]},"mark":{"type":"text","fontSize":17,"color":"#111"},"encoding":{"x":{"field":"x","type":"quantitative","axis":null},"y":{"field":"y","type":"quantitative","axis":null},"text":{"field":"t"}}},
{"data":{"values":[{"x":3,"y":38,"t":"A"}]},"mark":{"type":"text","fontSize":48,"align":"left","baseline":"alphabetic","color":"#111"},"encoding":{"x":{"field":"x","type":"quantitative","axis":null},"y":{"field":"y","type":"quantitative","axis":null},"text":{"field":"t"}}}
]},
{"width":840,"height":590,"layer":[
{"data":{"values":[{"x":1165,"y":325}]},"mark":{"type":"circle","size":234256,"opacity":1,"color":"#EDA58C"},"encoding":{"x":{"field":"x","type":"quantitative","axis":null,"scale":{"domain":[840,1680],"range":[0,840],"nice":false}},"y":{"field":"y","type":"quantitative","axis":null,"scale":{"domain":[0,590],"range":[0,590],"nice":false}}}},
{"data":{"values":[{"x":1382.3,"y":298.3}]},"mark":{"type":"circle","size":17266,"opacity":1,"color":"#94D2BE"},"encoding":{"x":{"field":"x","type":"quantitative","axis":null},"y":{"field":"y","type":"quantitative","axis":null}}},
{"data":{"name":"lens"},"mark":{"type":"area","orient":"horizontal","interpolate":"monotone","color":"#A8B287","opacity":1},"encoding":{"y":{"field":"y","type":"quantitative","axis":null},"x":{"field":"a","type":"quantitative","axis":null,"stack":null},"x2":{"field":"b"}}},
{"data":{"values":[{"x":1428,"y":202,"y2":261}]},"mark":{"type":"rule","color":"#111","strokeWidth":3},"encoding":{"x":{"field":"x","type":"quantitative","axis":null},"y":{"field":"y","type":"quantitative","axis":null},"y2":{"field":"y2"}}},
{"data":{"values":[{"x":1233,"y":42,"t":"Venn"},{"x":1070,"y":269,"t":"TCGA"},{"x":1070,"y":308,"t":"18534"},{"x":1362,"y":270,"t":"1107"},{"x":1393,"y":305,"t":"CMTM4 KD"},{"x":1428,"y":191,"t":"90"}]},"mark":{"type":"text","fontSize":27,"color":"#111"},"encoding":{"x":{"field":"x","type":"quantitative","axis":null},"y":{"field":"y","type":"quantitative","axis":null},"text":{"field":"t"}}},
{"data":{"values":[{"x":875,"y":38,"t":"B"}]},"mark":{"type":"text","fontSize":48,"align":"left","baseline":"alphabetic","color":"#111"},"encoding":{"x":{"field":"x","type":"quantitative","axis":null},"y":{"field":"y","type":"quantitative","axis":null},"text":{"field":"t"}}}
]},
{"width":840,"height":710,"resolve":{"scale":{"x":"independent","y":"independent","color":"independent"},"axis":{"y":"independent","x":"independent"},"legend":{"color":"independent"}},"layer":[
{"data":{"name":"hC"},"transform":[{"flatten":["v"]},{"window":[{"op":"row_number","as":"c"}],"groupby":["g"]}],"mark":{"type":"rect"},"encoding":{"x":{"field":"c","type":"ordinal","axis":null,"scale":{"range":[88,677],"paddingInner":0,"paddingOuter":0}},"y":{"field":"g","type":"nominal","sort":null,"scale":{"range":[50,690],"paddingInner":0,"paddingOuter":0},"axis":{"orient":"right","offset":-163,"title":null,"domain":false,"ticks":false,"labelFontSize":10,"labelPadding":2,"labelOverlap":false,"labelColor":"#333"}},"color":{"field":"v","type":"quantitative","scale":{"domain":[-10.4,-4,1,12],"range":["#1B3A9E","#4A62B0","#FFFFFF","#EC1C24"]},"legend":{"orient":"none","legendX":731,"legendY":38,"gradientLength":144,"gradientThickness":11,"values":[-5,0,5,10],"title":null,"labelFontSize":16}}}},
{"layer":[
{"data":{"values":[{"z":0,"h":[26,15.6,15.6,15,15,15,15,15,15,15,15,15,15,17,17,17,17,17,17,17,17,17,17,17,17,17,17,17,17,17,19,19,19,19,19,19,19,19,19,19,19,19,19,19,19,19,19,19,16,16,16,16,16,16,16,16,16,16,20,20,20,20,20,20,20,16,16,16,16,16,16,16,16,18,18,18,18,18,18,18,18,18,18,18,18,18,22,22,22,22,22,22,22,22,22,22,22,22,22,22]}]},"transform":[{"flatten":["h"]},{"window":[{"op":"row_number","as":"i"}]}],"mark":{"type":"rule","color":"#000","strokeWidth":2},"encoding":{"x":{"field":"z","type":"quantitative","axis":null,"scale":{"domain":[0,56],"range":[88,32],"nice":false}},"x2":{"field":"h"},"y":{"field":"i","type":"quantitative","axis":null,"scale":{"domain":[0.5,100.5],"range":[50,690],"nice":false}}}},
{"data":{"values":[{"h":[15.6,26,15,17,19,16,20,16,18,22,11,12,14,12,11,13,19,24,22,28,22,27,34.5,44,55.5],"a":[2,1,4,14,31,49,59,66,74,88,5,15,32,50,75,89,8.5,15,47,30,69.5,80.5,69.5,42,1.75],"b":[3,2.5,13,30,48,58,65,73,87,100,13,29,47,57,86,100,22,45,62,54.5,80.5,94.5,87.5,78.5,60.25],"p":[15.6,15.6,15,17,19,16,20,16,18,22,11,12,14,12,11,13,15,19,16,24,16,18,16,28,26],"q":[15.6,15.6,15,17,19,16,20,16,18,22,11,12,14,12,11,13,17,19,20,22,18,22,27,34.5,44]}]},"transform":[{"flatten":["h","a","b","p","q"]}],"layer":[
{"mark":{"type":"rule","color":"#000","strokeWidth":2.5},"encoding":{"x":{"field":"h","type":"quantitative","axis":null},"y":{"field":"a","type":"quantitative","axis":null},"y2":{"field":"b"}}},
{"mark":{"type":"rule","color":"#000","strokeWidth":2.5},"encoding":{"x":{"field":"h","type":"quantitative","axis":null},"x2":{"field":"p"},"y":{"field":"a","type":"quantitative","axis":null}}},
{"mark":{"type":"rule","color":"#000","strokeWidth":2.5},"encoding":{"x":{"field":"h","type":"quantitative","axis":null},"x2":{"field":"q"},"y":{"field":"b","type":"quantitative","axis":null}}}
]}]},
{"layer":[
{"data":{"values":[{"k":"Type","t":"Low","a":0,"b":0.5},{"k":"Type","t":"High","a":0.5,"b":1}]},"mark":{"type":"rect"},"encoding":{"x":{"field":"a","type":"quantitative","axis":null,"scale":{"domain":[0,1],"range":[88,677],"nice":false}},"x2":{"field":"b"},"y":{"field":"k","type":"nominal","scale":{"range":[37,47],"paddingInner":0,"paddingOuter":0},"axis":{"orient":"right","offset":-163,"title":null,"domain":false,"ticks":false,"labelFontSize":13,"labelFontWeight":"bold","labelPadding":2}},"color":{"field":"t","type":"nominal","scale":{"domain":["High","Low"],"range":["#45BFC4","#F28A82"]},"legend":{"orient":"none","legendX":766,"legendY":34,"title":"Type","titleFontWeight":"bold","titleFontSize":13,"symbolType":"square","symbolSize":190,"symbolStrokeWidth":0,"labelFontSize":15,"rowPadding":0}}}},
{"data":{"values":[{"x":-0.144,"k":"Type","t":"C"}]},"mark":{"type":"text","fontSize":50,"align":"left","dy":-22,"color":"#111"},"encoding":{"x":{"field":"x","type":"quantitative","axis":null},"y":{"field":"k","type":"nominal","axis":{"orient":"right","offset":-163,"title":null,"domain":false,"ticks":false,"labelFontSize":13,"labelFontWeight":"bold","labelPadding":2}},"text":{"field":"t"}}}
]}
]},
{"width":840,"height":710,"resolve":{"scale":{"x":"independent","y":"independent","color":"independent"},"axis":{"y":"independent","x":"independent"},"legend":{"color":"independent"}},"layer":[
{"data":{"name":"hD"},"transform":[{"flatten":["v"]},{"window":[{"op":"row_number","as":"c"}],"groupby":["g"]}],"mark":{"type":"rect"},"encoding":{"x":{"field":"c","type":"ordinal","axis":null,"scale":{"range":[132,711],"paddingInner":0,"paddingOuter":0}},"y":{"field":"g","type":"nominal","sort":null,"scale":{"range":[50,690],"paddingInner":0,"paddingOuter":0},"axis":{"orient":"right","offset":-129,"title":null,"domain":false,"ticks":false,"labelFontSize":8.5,"labelPadding":2,"labelOverlap":false,"labelColor":"#333"}},"color":{"field":"v","type":"quantitative","scale":{"domain":[-8.5,-3,1.8,12.3],"range":["#1B3A9E","#4A62B0","#FFFFFF","#EC1C24"]},"legend":{"orient":"none","legendX":762,"legendY":35,"gradientLength":174,"gradientThickness":10,"values":[-5,0,5,10],"title":null,"labelFontSize":16}}}},
{"data":{"values":[{"h":[12,14,12,16,18,20,12,16,16,18,12,16,20,34,13,17,21,24,10,13,16,21,13,16,15,18,22,27,35,54,12,14,12,15,19,28,14,27,13,13,18,13,13,16,14,20,23,28,38,48],"a":[1,3,6,5,3.5,1.5,9,8,11,8.75,14,13,10,3,20,19,17.5,16,17,24,23,22,27,26,29,26.75,22.9,17.3,6,13,31,30,36,35,34,33,39,38,41,43,41.5,45,47,45.5,49,46.5,42.5,38.75,34,30.75],"b":[2,4,7,6.5,5.75,4.6,10,9.5,12,11.5,15,14.5,13.75,12,21,20.5,19.75,18.6,18,25,24.5,23.75,28,27.5,30,29.5,28,25.5,19.5,34,32,31.5,37,36.5,35.75,34.9,40,39.5,42,44,43.5,46,48,47.5,50,49.5,48,45,42,36.8],"p":[0,0,0,0,14,12,0,0,0,16,0,0,18,20,0,0,0,0,0,0,0,0,0,0,0,16,21,24,20,35,0,0,0,0,0,0,0,0,0,0,13,0,0,13,0,16,18,27,28,14],"q":[0,0,0,12,16,16,0,12,0,16,0,12,16,20,0,13,17,21,0,0,13,16,0,13,0,15,18,22,27,48,0,12,0,12,15,19,0,14,0,0,13,0,0,13,0,14,20,23,28,38]}]},"transform":[{"flatten":["h","a","b","p","q"]}],"layer":[
{"mark":{"type":"rule","color":"#000","strokeWidth":2.5},"encoding":{"x":{"field":"h","type":"quantitative","axis":null,"scale":{"domain":[0,54],"range":[132,78],"nice":false}},"y":{"field":"a","type":"quantitative","axis":null,"scale":{"domain":[0.5,50.5],"range":[50,690],"nice":false}},"y2":{"field":"b"}}},
{"mark":{"type":"rule","color":"#000","strokeWidth":2.5},"encoding":{"x":{"field":"h","type":"quantitative","axis":null},"x2":{"field":"p"},"y":{"field":"a","type":"quantitative","axis":null}}},
{"mark":{"type":"rule","color":"#000","strokeWidth":2.5},"encoding":{"x":{"field":"h","type":"quantitative","axis":null},"x2":{"field":"q"},"y":{"field":"b","type":"quantitative","axis":null}}}
]},
{"layer":[
{"data":{"values":[{"k":"Type","t":"Low","a":0,"b":0.5},{"k":"Type","t":"High","a":0.5,"b":1}]},"mark":{"type":"rect"},"encoding":{"x":{"field":"a","type":"quantitative","axis":null,"scale":{"domain":[0,1],"range":[132,711],"nice":false}},"x2":{"field":"b"},"y":{"field":"k","type":"nominal","scale":{"range":[37,47],"paddingInner":0,"paddingOuter":0},"axis":{"orient":"right","offset":-129,"title":null,"domain":false,"ticks":false,"labelFontSize":13,"labelFontWeight":"bold","labelPadding":2}},"color":{"field":"t","type":"nominal","scale":{"domain":["High","Low"],"range":["#45BFC4","#F28A82"]},"legend":{"orient":"none","legendX":795,"legendY":34,"title":"Type","titleFontWeight":"bold","titleFontSize":13,"symbolType":"square","symbolSize":144,"symbolStrokeWidth":0,"labelFontSize":13,"labelOffset":2,"rowPadding":0}}}},
{"data":{"values":[{"x":-0.168,"k":"Type","t":"D"}]},"mark":{"type":"text","fontSize":50,"align":"left","dy":-22,"color":"#111"},"encoding":{"x":{"field":"x","type":"quantitative","axis":null},"y":{"field":"k","type":"nominal","axis":{"orient":"right","offset":-129,"title":null,"domain":false,"ticks":false,"labelFontSize":13,"labelFontWeight":"bold","labelPadding":2}},"text":{"field":"t"}}}
]}
]},
{"width":840,"height":580,"layer":[
{"data":{"name":"boxE"},"mark":{"type":"rule","strokeWidth":4},"encoding":{"x":{"field":"c","type":"quantitative","scale":{"domain":[0.4,4.6],"range":[109,573],"nice":false},"axis":{"orient":"bottom","offset":-50,"values":[1,2,3,4],"labelExpr":"'G'+datum.value","labelFontSize":21,"title":"Grade","titleFontSize":22,"titleX":336,"titleY":39,"titleBaseline":"middle"}},"y":{"field":"lo","type":"quantitative","scale":{"domain":[-139.8,435.9],"range":[530,108],"nice":false},"axis":{"orient":"left","offset":-109,"values":[-100,0,100,200,300,400],"labelFontSize":21,"title":"ImmuneScore","titleFontSize":27,"titleX":-58,"titleY":287,"titleBaseline":"middle"}},"y2":{"field":"hi"},"color":{"field":"g","type":"nominal","scale":{"domain":["G1","G2","G3","G4"],"range":["#EE7268","#7CA62A","#1CB5B8","#A07CB8"]}}}},
{"data":{"name":"boxE"},"mark":{"type":"rect","fillOpacity":0,"strokeWidth":4},"encoding":{"x":{"field":"a","type":"quantitative"},"x2":{"field":"b"},"y":{"field":"q1","type":"quantitative"},"y2":{"field":"q3"},"stroke":{"field":"g","type":"nominal","scale":{"domain":["G1","G2","G3","G4"],"range":["#EE7268","#7CA62A","#1CB5B8","#A07CB8"]},"legend":null}}},
{"data":{"name":"boxE"},"mark":{"type":"rule","strokeWidth":9},"encoding":{"x":{"field":"a","type":"quantitative"},"x2":{"field":"b"},"y":{"field":"m","type":"quantitative"},"color":{"field":"g","type":"nominal"}}},
{"data":{"name":"ptE"},"transform":[{"flatten":["x","y"]}],"mark":{"type":"circle","size":105,"opacity":1},"encoding":{"x":{"field":"x","type":"quantitative"},"y":{"field":"y","type":"quantitative"},"color":{"field":"g","type":"nominal"}}},
{"data":{"values":[{"g":"G1"},{"g":"G2"},{"g":"G3"},{"g":"G4"}]},"mark":{"type":"square","opacity":1},"encoding":{"size":{"value":0},"color":{"field":"g","type":"nominal","legend":{"orient":"none","legendX":185,"legendY":54,"direction":"horizontal","titleOrient":"left","title":"Grade","titleFontSize":22,"labelFontSize":20,"symbolType":"square","symbolSize":420,"columnPadding":6,"titlePadding":4,"symbolStrokeWidth":0,"labelOffset":4}}}},
{"data":{"name":"brE"},"mark":{"type":"rule","color":"#111","strokeWidth":2.5},"encoding":{"x":{"field":"a","type":"quantitative"},"x2":{"field":"b"},"y":{"field":"y","type":"quantitative"}}},
{"data":{"name":"brE"},"mark":{"type":"rule","color":"#111","strokeWidth":2.5},"encoding":{"x":{"field":"a","type":"quantitative"},"y":{"field":"y","type":"quantitative"},"y2":{"field":"t"}}},
{"data":{"name":"brE"},"mark":{"type":"rule","color":"#111","strokeWidth":2.5},"encoding":{"x":{"field":"b","type":"quantitative"},"y":{"field":"y","type":"quantitative"},"y2":{"field":"t"}}},
{"data":{"name":"brE"},"mark":{"type":"text","fontSize":22,"dy":-12,"color":"#111"},"encoding":{"x":{"field":"mx","type":"quantitative"},"y":{"field":"y","type":"quantitative"},"text":{"field":"p"}}},
{"data":{"values":[{"x":-0.559,"y":556,"t":"E"}]},"mark":{"type":"text","fontSize":50,"align":"left","color":"#111"},"encoding":{"x":{"field":"x","type":"quantitative"},"y":{"field":"y","type":"quantitative"},"text":{"field":"t"}}}
]},
{"width":840,"height":580,"layer":[
{"data":{"name":"boxF"},"mark":{"type":"rule","strokeWidth":4},"encoding":{"x":{"field":"c","type":"quantitative","scale":{"domain":[0.4,4.6],"range":[140,614],"nice":false},"axis":{"orient":"bottom","offset":-50,"values":[1,2,3,4],"labelExpr":"'G'+datum.value","labelFontSize":21,"title":"Grade","titleFontSize":22,"titleX":388,"titleY":39,"titleBaseline":"middle"}},"y":{"field":"lo","type":"quantitative","scale":{"domain":[-57,612.7],"range":[530,108],"nice":false},"axis":{"orient":"left","offset":-140,"values":[0,200,400,600],"labelFontSize":20,"labelPadding":0,"title":"StromalScore","titleFontSize":27,"titleX":-52,"titleY":289,"titleBaseline":"middle"}},"y2":{"field":"hi"},"color":{"field":"g","type":"nominal","scale":{"domain":["G1","G2","G3","G4"],"range":["#EE7268","#7CA62A","#1CB5B8","#A07CB8"]}}}},
{"data":{"name":"boxF"},"mark":{"type":"rect","fillOpacity":0,"strokeWidth":4},"encoding":{"x":{"field":"a","type":"quantitative"},"x2":{"field":"b"},"y":{"field":"q1","type":"quantitative"},"y2":{"field":"q3"},"stroke":{"field":"g","type":"nominal","scale":{"domain":["G1","G2","G3","G4"],"range":["#EE7268","#7CA62A","#1CB5B8","#A07CB8"]},"legend":null}}},
{"data":{"name":"boxF"},"mark":{"type":"rule","strokeWidth":9},"encoding":{"x":{"field":"a","type":"quantitative"},"x2":{"field":"b"},"y":{"field":"m","type":"quantitative"},"color":{"field":"g","type":"nominal"}}},
{"data":{"name":"ptF"},"transform":[{"flatten":["x","y"]}],"mark":{"type":"circle","size":105,"opacity":1},"encoding":{"x":{"field":"x","type":"quantitative"},"y":{"field":"y","type":"quantitative"},"color":{"field":"g","type":"nominal"}}},
{"data":{"values":[{"g":"G1"},{"g":"G2"},{"g":"G3"},{"g":"G4"}]},"mark":{"type":"square","opacity":1},"encoding":{"size":{"value":0},"color":{"field":"g","type":"nominal","legend":{"orient":"none","legendX":221,"legendY":54,"direction":"horizontal","titleOrient":"left","title":"Grade","titleFontSize":22,"labelFontSize":20,"symbolType":"square","symbolSize":420,"columnPadding":6,"titlePadding":4,"symbolStrokeWidth":0,"labelOffset":4}}}},
{"data":{"name":"brF"},"mark":{"type":"rule","color":"#111","strokeWidth":2.5},"encoding":{"x":{"field":"a","type":"quantitative"},"x2":{"field":"b"},"y":{"field":"y","type":"quantitative"}}},
{"data":{"name":"brF"},"mark":{"type":"rule","color":"#111","strokeWidth":2.5},"encoding":{"x":{"field":"a","type":"quantitative"},"y":{"field":"y","type":"quantitative"},"y2":{"field":"t"}}},
{"data":{"name":"brF"},"mark":{"type":"rule","color":"#111","strokeWidth":2.5},"encoding":{"x":{"field":"b","type":"quantitative"},"y":{"field":"y","type":"quantitative"},"y2":{"field":"t"}}},
{"data":{"name":"brF"},"mark":{"type":"text","fontSize":22,"dy":-12,"color":"#111"},"encoding":{"x":{"field":"mx","type":"quantitative"},"y":{"field":"y","type":"quantitative"},"text":{"field":"p"}}},
{"data":{"values":[{"x":-0.486,"y":752,"t":"F"}]},"mark":{"type":"text","fontSize":50,"align":"left","color":"#111"},"encoding":{"x":{"field":"x","type":"quantitative"},"y":{"field":"y","type":"quantitative"},"text":{"field":"t"}}}
]},
{"width":840,"height":599,"resolve":{"scale":{"x":"independent","y":"independent","color":"independent"},"axis":{"x":"independent","y":"independent"}},"layer":[
{"layer":[
{"data":{"name":"hMin"},"mark":{"type":"rule","color":"#EBEBEB","strokeWidth":2},"encoding":{"y":{"field":"v","type":"quantitative","scale":{"domain":[-0.047,1.047],"range":[409,82],"nice":false},"axis":{"orient":"left","offset":-130,"values":[0,0.25,0.5,0.75,1],"format":".2f","domain":false,"labelFontSize":24,"title":"Survival probability","titleFontSize":26,"titleX":-79,"titleY":262,"titleBaseline":"middle"}},"x":{"field":"a","type":"quantitative","scale":{"domain":[-0.478,10.465],"range":[130,624],"nice":false},"axis":{"orient":"bottom","offset":-190,"values":[0,2.5,5,7.5,10],"labelExpr":"''+datum.value","domain":false,"labelFontSize":24,"title":null}},"x2":{"field":"b"}}},
{"data":{"name":"hMaj"},"mark":{"type":"rule","color":"#EBEBEB","strokeWidth":4},"encoding":{"y":{"field":"v","type":"quantitative"},"x":{"field":"a","type":"quantitative"},"x2":{"field":"b"}}},
{"data":{"name":"vMin"},"mark":{"type":"rule","color":"#EBEBEB","strokeWidth":2},"encoding":{"x":{"field":"v","type":"quantitative"},"y":{"field":"a","type":"quantitative"},"y2":{"field":"b"}}},
{"data":{"name":"vMaj"},"mark":{"type":"rule","color":"#EBEBEB","strokeWidth":4},"encoding":{"x":{"field":"v","type":"quantitative"},"y":{"field":"a","type":"quantitative"},"y2":{"field":"b"}}},
{"data":{"name":"kmG"},"mark":{"type":"line","interpolate":"step-after","strokeWidth":8},"encoding":{"x":{"field":"t","type":"quantitative"},"y":{"field":"s","type":"quantitative"},"color":{"field":"g","type":"nominal","scale":{"domain":["high","low"],"range":["#E3B10E","#2B97D6"]}},"strokeDash":{"field":"g","type":"nominal","scale":{"domain":["high","low"],"range":[[1,0],[20,16]]},"legend":null}}},
{"data":{"name":"kmG"},"mark":{"type":"area","interpolate":"step-after","opacity":0.24},"encoding":{"x":{"field":"t","type":"quantitative"},"y":{"field":"l","type":"quantitative"},"y2":{"field":"u"},"fill":{"field":"g","type":"nominal","scale":{"domain":["high","low"],"range":["#E3B10E","#2F70C0"]},"legend":null}}},
{"data":{"values":[{"g":"low","t":[0.01,0.38,0.85,0.97,1.12,1.56,1.62,1.93,3.13,3.34,4.2,4.47,4.59,5.06,5.3,5.98,6.27,7.56,8.96,9.4],"s":[1,0.96,0.936,0.936,0.936,0.897,0.897,0.827,0.749,0.707,0.707,0.707,0.707,0.707,0.707,0.61,0.61,0.61,0.61,0.61]},{"g":"high","t":[10.05],"s":[0.123]}]},"transform":[{"flatten":["t","s"]}],"mark":{"type":"point","shape":"M-1,0H1M0,-1V1","size":70,"strokeWidth":1.5,"opacity":1},"encoding":{"x":{"field":"t","type":"quantitative"},"y":{"field":"s","type":"quantitative"},"color":{"field":"g","type":"nominal"}}},
{"data":{"name":"keys"},"mark":{"type":"square","opacity":1},"encoding":{"size":{"value":0},"color":{"field":"g","type":"nominal","legend":{"orient":"none","legendX":300,"legendY":43,"direction":"horizontal","titleOrient":"left","title":"ImmuneScore","titleFontSize":22,"labelFontSize":21,"symbolType":"square","symbolSize":270,"columnPadding":22,"titlePadding":12,"symbolStrokeWidth":0}}}},
{"data":{"values":[{"x":-0.478,"x2":10.465,"y":-0.047,"y2":1.047},{"x":-0.478,"x2":10.465,"y":-0.251,"y2":-0.505}]},"mark":{"type":"rect","fillOpacity":0,"stroke":"#333","strokeWidth":3},"encoding":{"x":{"field":"x","type":"quantitative"},"x2":{"field":"x2"},"y":{"field":"y","type":"quantitative"},"y2":{"field":"y2"}}},
{"data":{"values":[{"x":0,"y":0.075,"t":"P = 0.0061"}]},"mark":{"type":"text","fontSize":24,"align":"left","color":"#111"},"encoding":{"x":{"field":"x","type":"quantitative"},"y":{"field":"y","type":"quantitative"},"text":{"field":"t"}}},
{"data":{"values":[{"x":-0.478,"y":-0.194,"t":"Number at risk"}]},"mark":{"type":"text","fontSize":21,"align":"left","color":"#111"},"encoding":{"x":{"field":"x","type":"quantitative"},"y":{"field":"y","type":"quantitative"},"text":{"field":"t"}}},
{"data":{"values":[{"x":-3.31,"y":1.25,"t":"G"}]},"mark":{"type":"text","fontSize":50,"align":"left","color":"#111"},"encoding":{"x":{"field":"x","type":"quantitative"},"y":{"field":"y","type":"quantitative"},"text":{"field":"t"}}}
]},
{"data":{"values":[{"g":"high","t":0.13,"n":"318"},{"g":"high","t":2.57,"n":"87"},{"g":"high","t":5.07,"n":"29"},{"g":"high","t":7.52,"n":"5"},{"g":"high","t":10,"n":"1"},{"g":"low","t":0.08,"n":"52"},{"g":"low","t":2.57,"n":"20"},{"g":"low","t":5.07,"n":"11"},{"g":"low","t":7.52,"n":"3"},{"g":"low","t":10,"n":"0"}]},"mark":{"type":"text","fontSize":21},"encoding":{"x":{"field":"t","type":"quantitative","scale":{"domain":[-0.478,10.465],"range":[130,624],"nice":false},"axis":{"orient":"bottom","offset":-53,"values":[0,2.5,5,7.5,10],"labelExpr":"''+datum.value","domain":false,"labelFontSize":24,"title":"Time (years)","titleFontSize":24,"titleX":383,"titleY":40,"titleBaseline":"middle"}},"y":{"field":"g","type":"nominal","scale":{"range":[473,544],"paddingInner":0,"paddingOuter":0},"axis":{"orient":"left","offset":-130,"title":null,"domain":false,"labelFontSize":21,"labelColor":{"expr":"datum.label=='high'?'#E3B10E':'#2B97D6'"}}},"text":{"field":"n"},"color":{"field":"g","type":"nominal","scale":{"domain":["high","low"],"range":["#E3B10E","#2B97D6"]},"legend":null}}}
]},
{"width":840,"height":599,"resolve":{"scale":{"x":"independent","y":"independent","color":"independent"},"axis":{"x":"independent","y":"independent"}},"layer":[
{"layer":[
{"data":{"name":"hMin"},"mark":{"type":"rule","color":"#EBEBEB","strokeWidth":2},"encoding":{"y":{"field":"v","type":"quantitative","scale":{"domain":[-0.047,1.047],"range":[407,81],"nice":false},"axis":{"orient":"left","offset":-171,"values":[0,0.25,0.5,0.75,1],"format":".2f","domain":false,"labelFontSize":24,"title":"Survival probability","titleFontSize":26,"titleX":-79,"titleY":248,"titleBaseline":"middle"}},"x":{"field":"a","type":"quantitative","scale":{"domain":[-0.488,10.465],"range":[171,665],"nice":false},"axis":{"orient":"bottom","offset":-192,"values":[0,2.5,5,7.5,10],"labelExpr":"''+datum.value","domain":false,"labelFontSize":24,"title":null}},"x2":{"field":"b"}}},
{"data":{"name":"hMaj"},"mark":{"type":"rule","color":"#EBEBEB","strokeWidth":4},"encoding":{"y":{"field":"v","type":"quantitative"},"x":{"field":"a","type":"quantitative"},"x2":{"field":"b"}}},
{"data":{"name":"vMin"},"mark":{"type":"rule","color":"#EBEBEB","strokeWidth":2},"encoding":{"x":{"field":"v","type":"quantitative"},"y":{"field":"a","type":"quantitative"},"y2":{"field":"b"}}},
{"data":{"name":"vMaj"},"mark":{"type":"rule","color":"#EBEBEB","strokeWidth":4},"encoding":{"x":{"field":"v","type":"quantitative"},"y":{"field":"a","type":"quantitative"},"y2":{"field":"b"}}},
{"data":{"name":"kmH"},"mark":{"type":"line","interpolate":"step-after","strokeWidth":8},"encoding":{"x":{"field":"t","type":"quantitative"},"y":{"field":"s","type":"quantitative"},"color":{"field":"g","type":"nominal","scale":{"domain":["high","low"],"range":["#E3B10E","#2B97D6"]}},"strokeDash":{"field":"g","type":"nominal","scale":{"domain":["high","low"],"range":[[1,0],[20,16]]},"legend":null}}},
{"data":{"name":"kmH"},"mark":{"type":"area","interpolate":"step-after","opacity":0.24},"encoding":{"x":{"field":"t","type":"quantitative"},"y":{"field":"l","type":"quantitative"},"y2":{"field":"u"},"fill":{"field":"g","type":"nominal","scale":{"domain":["high","low"],"range":["#E3B10E","#2F70C0"]},"legend":null}}},
{"data":{"values":[{"g":"low","t":[0.05,0.2,0.46,0.82,1.12,1.53,2,2.43,2.61,2.8,2.9,3.21,3.7,3.83,4.16,4.32,4.73,5.1,5.2,5.5,5.6,5.75,6.02,6.32,6.62,7.5,9.04,9.38,10.08],"s":[0.99,0.95,0.9,0.84,0.77,0.745,0.68,0.613,0.607,0.607,0.6,0.584,0.556,0.54,0.54,0.514,0.481,0.453,0.453,0.453,0.453,0.453,0.408,0.408,0.408,0.28,0.227,0.227,0.227]},{"g":"high","t":[7.48],"s":[0.41]}]},"transform":[{"flatten":["t","s"]}],"mark":{"type":"point","shape":"M-1,0H1M0,-1V1","size":70,"strokeWidth":1.5,"opacity":1},"encoding":{"x":{"field":"t","type":"quantitative"},"y":{"field":"s","type":"quantitative"},"color":{"field":"g","type":"nominal"}}},
{"data":{"name":"keys"},"mark":{"type":"square","opacity":1},"encoding":{"size":{"value":0},"color":{"field":"g","type":"nominal","legend":{"orient":"none","legendX":337,"legendY":41,"direction":"horizontal","titleOrient":"left","title":"StromaScore","titleFontSize":22,"labelFontSize":21,"symbolType":"square","symbolSize":270,"columnPadding":22,"titlePadding":12,"symbolStrokeWidth":0}}}},
{"data":{"values":[{"x":-0.488,"x2":10.465,"y":-0.047,"y2":1.047},{"x":-0.488,"x2":10.465,"y":-0.255,"y2":-0.508}]},"mark":{"type":"rect","fillOpacity":0,"stroke":"#333","strokeWidth":3},"encoding":{"x":{"field":"x","type":"quantitative"},"x2":{"field":"x2"},"y":{"field":"y","type":"quantitative"},"y2":{"field":"y2"}}},
{"data":{"values":[{"x":0,"y":0.075,"t":"P = 0.079"}]},"mark":{"type":"text","fontSize":24,"align":"left","color":"#111"},"encoding":{"x":{"field":"x","type":"quantitative"},"y":{"field":"y","type":"quantitative"},"text":{"field":"t"}}},
{"data":{"values":[{"x":-0.488,"y":-0.195,"t":"Number at risk"}]},"mark":{"type":"text","fontSize":21,"align":"left","color":"#111"},"encoding":{"x":{"field":"x","type":"quantitative"},"y":{"field":"y","type":"quantitative"},"text":{"field":"t"}}},
{"data":{"values":[{"x":-3.5,"y":1.248,"t":"H"}]},"mark":{"type":"text","fontSize":50,"align":"left","color":"#111"},"encoding":{"x":{"field":"x","type":"quantitative"},"y":{"field":"y","type":"quantitative"},"text":{"field":"t"}}}
]},
{"data":{"values":[{"g":"high","t":0.07,"n":"63"},{"g":"high","t":2.57,"n":"25"},{"g":"high","t":5.04,"n":"9"},{"g":"high","t":7.52,"n":"2"},{"g":"high","t":10.02,"n":"0"},{"g":"low","t":0.13,"n":"307"},{"g":"low","t":2.57,"n":"82"},{"g":"low","t":5.07,"n":"31"},{"g":"low","t":7.52,"n":"6"},{"g":"low","t":10.02,"n":"1"}]},"mark":{"type":"text","fontSize":21},"encoding":{"x":{"field":"t","type":"quantitative","scale":{"domain":[-0.488,10.465],"range":[171,665],"nice":false},"axis":{"orient":"bottom","offset":-54.5,"values":[0,2.5,5,7.5,10],"labelExpr":"''+datum.value","domain":false,"labelFontSize":24,"title":"Time (years)","titleFontSize":24,"titleX":415,"titleY":37,"titleBaseline":"middle"}},"y":{"field":"g","type":"nominal","scale":{"range":[472,542],"paddingInner":0,"paddingOuter":0},"axis":{"orient":"left","offset":-171,"title":null,"domain":false,"labelFontSize":21,"labelColor":{"expr":"datum.label=='high'?'#E3B10E':'#2B97D6'"}}},"text":{"field":"n"},"color":{"field":"g","type":"nominal","scale":{"domain":["high","low"],"range":["#E3B10E","#2B97D6"]},"legend":null}}}
]}
]}
